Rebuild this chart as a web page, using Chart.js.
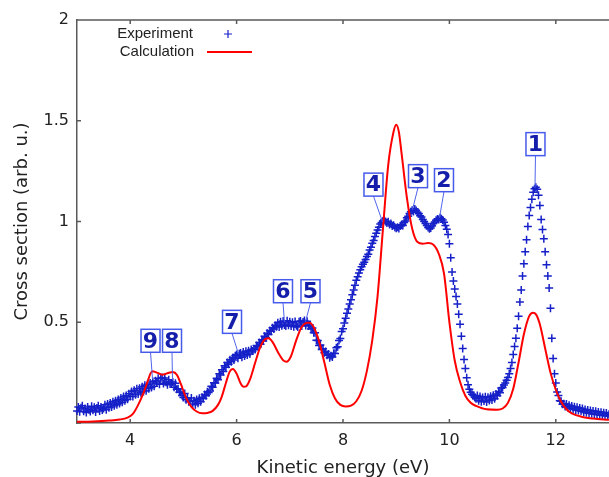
<!DOCTYPE html>
<html><head><meta charset="utf-8">
<script src="https://cdn.jsdelivr.net/npm/chart.js@4.4.1/dist/chart.umd.min.js"></script>
<style>html,body{margin:0;padding:0;background:#fff;overflow:hidden}#wrap{position:relative;width:609px;height:477px}</style>
</head><body><div id="wrap"><canvas id="c" width="609" height="477"></canvas></div>
<script>
// ---- Experimental data (kinetic energy in eV, cross section in arb. u.) ----
const expEnergy = [
3,3.025,3.05,3.075,3.1,3.125,3.15,3.175,3.2,3.225,3.25,3.275,3.3,3.325,3.35,3.375,3.4,3.425,3.45,3.475,
3.5,3.525,3.55,3.575,3.6,3.625,3.65,3.675,3.7,3.725,3.75,3.775,3.8,3.825,3.85,3.875,3.9,3.925,3.95,3.975,
4,4.025,4.05,4.075,4.1,4.125,4.15,4.175,4.2,4.225,4.25,4.275,4.3,4.325,4.35,4.375,4.4,4.425,4.45,4.475,
4.5,4.525,4.55,4.575,4.6,4.625,4.65,4.675,4.7,4.725,4.75,4.775,4.8,4.825,4.85,4.875,4.9,4.925,4.95,4.975,
5,5.025,5.05,5.075,5.1,5.125,5.15,5.175,5.2,5.225,5.25,5.275,5.3,5.325,5.35,5.375,5.4,5.425,5.45,5.475,
5.5,5.525,5.55,5.575,5.6,5.625,5.65,5.675,5.7,5.725,5.75,5.775,5.8,5.825,5.85,5.875,5.9,5.925,5.95,5.975,
6,6.025,6.05,6.075,6.1,6.125,6.15,6.175,6.2,6.225,6.25,6.275,6.3,6.325,6.35,6.375,6.4,6.425,6.45,6.475,
6.5,6.525,6.55,6.575,6.6,6.625,6.65,6.675,6.7,6.725,6.75,6.775,6.8,6.825,6.85,6.875,6.9,6.925,6.95,6.975,
7,7.025,7.05,7.075,7.1,7.125,7.15,7.175,7.2,7.225,7.25,7.275,7.3,7.325,7.35,7.375,7.4,7.425,7.45,7.475,
7.5,7.525,7.55,7.575,7.6,7.625,7.65,7.675,7.7,7.725,7.75,7.775,7.8,7.825,7.85,7.875,7.9,7.925,7.95,7.975,
8,8.025,8.05,8.075,8.1,8.125,8.15,8.175,8.2,8.225,8.25,8.275,8.3,8.325,8.35,8.375,8.4,8.425,8.45,8.475,
8.5,8.525,8.55,8.575,8.6,8.625,8.65,8.675,8.7,8.725,8.75,8.775,8.8,8.825,8.85,8.875,8.9,8.925,8.95,8.975,
9,9.025,9.05,9.075,9.1,9.125,9.15,9.175,9.2,9.225,9.25,9.275,9.3,9.325,9.35,9.375,9.4,9.425,9.45,9.475,
9.5,9.525,9.55,9.575,9.6,9.625,9.65,9.675,9.7,9.725,9.75,9.775,9.8,9.825,9.85,9.875,9.9,9.925,9.95,9.975,
10,10.025,10.05,10.075,10.1,10.125,10.15,10.175,10.2,10.225,10.25,10.275,10.3,10.325,10.35,10.375,10.4,10.425,10.45,10.475,
10.5,10.525,10.55,10.575,10.6,10.625,10.65,10.675,10.7,10.725,10.75,10.775,10.8,10.825,10.85,10.875,10.9,10.925,10.95,10.975,
11,11.025,11.05,11.075,11.1,11.125,11.15,11.175,11.2,11.225,11.25,11.275,11.3,11.325,11.35,11.375,11.4,11.425,11.45,11.475,
11.5,11.525,11.55,11.575,11.6,11.625,11.65,11.675,11.7,11.725,11.75,11.775,11.8,11.825,11.85,11.875,11.9,11.925,11.95,11.975,
12,12.025,12.05,12.075,12.1,12.125,12.15,12.175,12.2,12.225,12.25,12.275,12.3,12.325,12.35,12.375,12.4,12.425,12.45,12.475,
12.5,12.525,12.55,12.575,12.6,12.625,12.65,12.675,12.7,12.725,12.75,12.775,12.8,12.825,12.85,12.875,12.9,12.925,12.95,12.975,
13];
const expSignal = [
.060,.080,.056,.076,.085,.058,.072,.052,.079,.066,.057,.083,.063,.078,.054,.074,.086,.060,.080,.064,
.072,.090,.066,.094,.076,.099,.080,.106,.085,.110,.090,.117,.097,.124,.103,.131,.110,.137,.118,.145,
.132,.156,.131,.163,.140,.170,.144,.173,.150,.180,.156,.187,.160,.192,.170,.198,.176,.206,.182,.210,
.198,.222,.192,.220,.226,.196,.223,.202,.190,.215,.194,.196,.204,.177,.197,.168,.170,.153,.152,.137,
.126,.146,.115,.125,.106,.108,.124,.094,.110,.091,.117,.098,.123,.105,.128,.121,.141,.135,.155,.151,
.159,.182,.177,.200,.199,.222,.215,.244,.238,.264,.255,.284,.277,.300,.291,.314,.304,.324,.313,.334,
.340,.321,.344,.348,.326,.352,.333,.356,.337,.359,.343,.365,.357,.367,.365,.385,.378,.399,.391,.413,
.407,.431,.423,.445,.439,.459,.455,.473,.467,.485,.478,.497,.477,.503,.483,.506,.486,.481,.508,.485,
.503,.481,.500,.478,.504,.483,.476,.502,.506,.482,.501,.509,.484,.505,.481,.486,.467,.472,.448,.448,
.411,.410,.385,.387,.365,.369,.349,.355,.336,.342,.324,.334,.327,.346,.345,.374,.379,.410,.419,.454,
.468,.496,.520,.545,.566,.590,.612,.636,.660,.684,.708,.726,.744,.760,.775,.788,.798,.811,.826,.838,
.858,.872,.892,.906,.925,.942,.958,.972,.988,.995,1.003,1.010,1.000,.992,.999,.985,.990,.978,.982,.971,
.966,.972,.965,.978,.984,.980,.995,1.003,1.018,1.026,1.040,1.048,1.056,1.050,1.062,1.054,1.046,1.040,1.028,1.022,
1.010,1.000,.990,.980,.970,.964,.968,.978,.990,.998,1.006,1.012,1.010,1.018,1.014,1.008,.996,.980,.962,.935,
.890,.820,.750,.705,.665,.628,.590,.540,.490,.430,.370,.315,.270,.225,.190,.168,.152,.143,.136,.128,
.120,.137,.111,.132,.106,.127,.109,.130,.104,.128,.112,.133,.114,.138,.120,.144,.135,.156,.150,.174,
.176,.188,.198,.212,.226,.245,.270,.300,.340,.380,.420,.470,.530,.600,.660,.730,.790,.850,.910,.975,
1.030,1.070,1.110,1.145,1.162,1.170,1.160,1.130,1.080,1.010,.960,.915,.850,.785,.730,.670,.570,.420,.320,.245,
.199,.154,.136,.110,.108,.093,.096,.082,.094,.077,.088,.072,.084,.068,.081,.065,.078,.062,.075,.060,
.072,.055,.067,.051,.065,.048,.062,.046,.059,.044,.058,.042,.055,.040,.053,.039,.051,.037,.050,.036,
.043];

// ---- Calculated cross section ----
const calcEnergy = [3.0,3.3,3.6,3.8,3.95,4.05,4.15,4.25,4.32,4.38,4.42,4.5,4.6,4.7,4.8,4.88,4.95,5.05,5.15,5.25,5.35,5.45,5.55,5.65,5.72,5.8,5.87,5.93,6.0,6.07,6.13,6.18,6.25,6.35,6.45,6.55,6.6,6.68,6.78,6.88,6.94,7.02,7.12,7.22,7.32,7.37,7.45,7.55,7.65,7.75,7.85,7.95,8.05,8.15,8.25,8.35,8.45,8.55,8.65,8.75,8.85,8.95,9.0,9.05,9.1,9.2,9.3,9.4,9.5,9.6,9.7,9.8,9.9,10.0,10.1,10.2,10.3,10.4,10.5,10.7,10.9,11.0,11.1,11.2,11.3,11.4,11.5,11.57,11.63,11.7,11.8,11.9,12.0,12.1,12.2,12.3,12.5,12.7,13.0];
const calcSignal = [.006,.008,.012,.017,.027,.045,.090,.150,.200,.245,.257,.250,.240,.247,.253,.238,.195,.125,.080,.057,.048,.050,.060,.090,.130,.200,.255,.268,.245,.200,.180,.182,.215,.300,.380,.418,.420,.400,.350,.310,.304,.330,.410,.475,.497,.498,.475,.405,.300,.190,.122,.090,.082,.086,.108,.160,.260,.410,.630,.960,1.280,1.445,1.480,1.445,1.340,1.120,.965,.898,.890,.893,.885,.840,.740,.500,.310,.205,.135,.100,.085,.068,.066,.072,.100,.170,.300,.440,.530,.547,.538,.490,.370,.250,.165,.105,.068,.048,.030,.022,.016];

// ---- Axis ticks ----
const xTicks = [4, 6, 8, 10, 12];
const yTicks = [0, 0.5, 1, 1.5, 2];

// ---- Peak labels: anchor on the experimental curve and label box (data units) ----
const peakNames   = ['1','2','3','4','5','6','7','8','9'];
const peakAnchorE = [11.609, 9.814, 9.306, 8.742, 7.295, 6.900, 6.036, 4.795, 4.419];
const peakAnchorY = [1.168, 1.019, 1.059, 0.999, 0.502, 0.502, 0.343, 0.214, 0.219];
const peakBoxE    = [11.618, 9.898, 9.410, 8.573, 7.389, 6.872, 5.914, 4.786, 4.382];
const peakBoxY    = [1.384, 1.205, 1.225, 1.183, 0.654, 0.654, 0.502, 0.408, 0.408];

const EXP_COLOR = 'rgb(22,32,200)';
const CALC_COLOR = '#ff0000';
const AXIS_COLOR = '#5a5a5a';

const framePlugin = {
  id: 'frame',
  beforeDatasetsDraw(chart) {
    const {ctx, chartArea: a, scales: {x, y}} = chart;
    ctx.save();
    ctx.strokeStyle = AXIS_COLOR;
    ctx.lineWidth = 1.5;
    ctx.beginPath();
    ctx.moveTo(a.left, a.top); ctx.lineTo(a.right + 2, a.top);
    xTicks.forEach(v => {
      const px = x.getPixelForValue(v);
      ctx.moveTo(px, a.bottom); ctx.lineTo(px, a.bottom - 4);
      ctx.moveTo(px, a.top); ctx.lineTo(px, a.top + 4);
    });
    yTicks.forEach(v => {
      const py = y.getPixelForValue(v);
      ctx.moveTo(a.left, py); ctx.lineTo(a.left + 4, py);
    });
    ctx.stroke();
    ctx.restore();
  }
};

const peakPlugin = {
  id: 'peaks',
  afterDatasetsDraw(chart) {
    const {ctx, scales: {x, y}} = chart;
    ctx.save();
    const w = 19, h = 23;
    peakNames.forEach((t, i) => {
      const bx = x.getPixelForValue(peakBoxE[i]), by = y.getPixelForValue(peakBoxY[i]);
      const ax = x.getPixelForValue(peakAnchorE[i]), ay = y.getPixelForValue(peakAnchorY[i]);
      ctx.strokeStyle = 'rgb(80,100,235)';
      ctx.lineWidth = 1;
      ctx.beginPath(); ctx.moveTo(bx, by + h / 2); ctx.lineTo(ax, ay); ctx.stroke();
      ctx.fillStyle = '#fff';
      ctx.fillRect(bx - w / 2, by - h / 2, w, h);
      ctx.strokeStyle = 'rgb(70,90,235)';
      ctx.lineWidth = 1.5;
      ctx.strokeRect(bx - w / 2, by - h / 2, w, h);
      ctx.fillStyle = 'rgb(20,30,170)';
      ctx.font = 'bold 22px "DejaVu Sans", sans-serif';
      ctx.textAlign = 'center';
      ctx.textBaseline = 'middle';
      ctx.fillText(t, bx, by + 1);
    });
    ctx.restore();
  }
};

const legendPlugin = {
  id: 'keyBox',
  afterDraw(chart) {
    const {ctx} = chart;
    const ds = chart.data.datasets;
    ctx.save();
    ctx.font = '15px "Liberation Sans", Arial, sans-serif';
    ctx.fillStyle = '#222';
    ctx.textAlign = 'right';
    ctx.textBaseline = 'middle';
    ctx.fillText(ds[1].label, 193, 34);
    ctx.strokeStyle = ds[1].borderColor;
    ctx.lineWidth = 1.2;
    ctx.beginPath();
    ctx.moveTo(224, 34); ctx.lineTo(232, 34);
    ctx.moveTo(228, 30); ctx.lineTo(228, 38);
    ctx.stroke();
    ctx.fillText(ds[0].label, 194, 52);
    ctx.strokeStyle = ds[0].borderColor;
    ctx.lineWidth = 2;
    ctx.beginPath(); ctx.moveTo(207, 52); ctx.lineTo(252, 52); ctx.stroke();
    ctx.restore();
  }
};

new Chart(document.getElementById('c').getContext('2d'), {
  type: 'scatter',
  data: {
    datasets: [
      {
        label: 'Calculation', type: 'line',
        data: calcEnergy.map((e, i) => ({x: e, y: calcSignal[i]})),
        borderColor: CALC_COLOR, backgroundColor: CALC_COLOR, borderWidth: 2,
        pointRadius: 0, cubicInterpolationMode: 'monotone', fill: false, order: 0
      },
      {
        label: 'Experiment',
        data: expEnergy.map((e, i) => ({x: e, y: expSignal[i]})),
        pointStyle: 'cross', pointRadius: 4, borderWidth: 1.5,
        borderColor: EXP_COLOR, backgroundColor: EXP_COLOR, showLine: false, order: 1, clip: 6
      }
    ]
  },
  options: {
    responsive: false, animation: false, devicePixelRatio: 1, events: [],
    layout: {autoPadding: false, padding: {top: 20, left: 0, right: 0, bottom: 0}},
    plugins: {legend: {display: false}, tooltip: {enabled: false}},
    scales: {
      x: {
        type: 'linear', min: 3, max: 13,
        afterBuildTicks: s => { s.ticks = xTicks.map(v => ({value: v})); },
        afterFit: s => { s.height = 54; },
        grid: {display: false, drawTicks: false},
        border: {display: true, color: AXIS_COLOR, width: 1.5},
        ticks: {font: {family: 'DejaVu Sans', size: 16}, color: '#222', padding: 8, maxRotation: 0},
        title: {display: true, text: 'Kinetic energy (eV)', font: {family: 'DejaVu Sans', size: 18}, color: '#222', padding: {top: 0, bottom: -2}}
      },
      y: {
        type: 'linear', min: 0, max: 2,
        afterBuildTicks: s => { s.ticks = yTicks.map(v => ({value: v})); },
        afterFit: s => { s.width = 77; },
        grid: {display: false, drawTicks: false},
        border: {display: true, color: AXIS_COLOR, width: 1.5},
        ticks: {font: {family: 'DejaVu Sans', size: 16}, color: '#222', padding: 8,
                callback: v => (v === 0 ? '' : String(v))},
        title: {display: true, text: 'Cross section (arb. u.)', font: {family: 'DejaVu Sans', size: 18}, color: '#222', padding: {top: 12, bottom: 0}}
      }
    }
  },
  plugins: [framePlugin, peakPlugin, legendPlugin]
});
</script>
</body></html>
